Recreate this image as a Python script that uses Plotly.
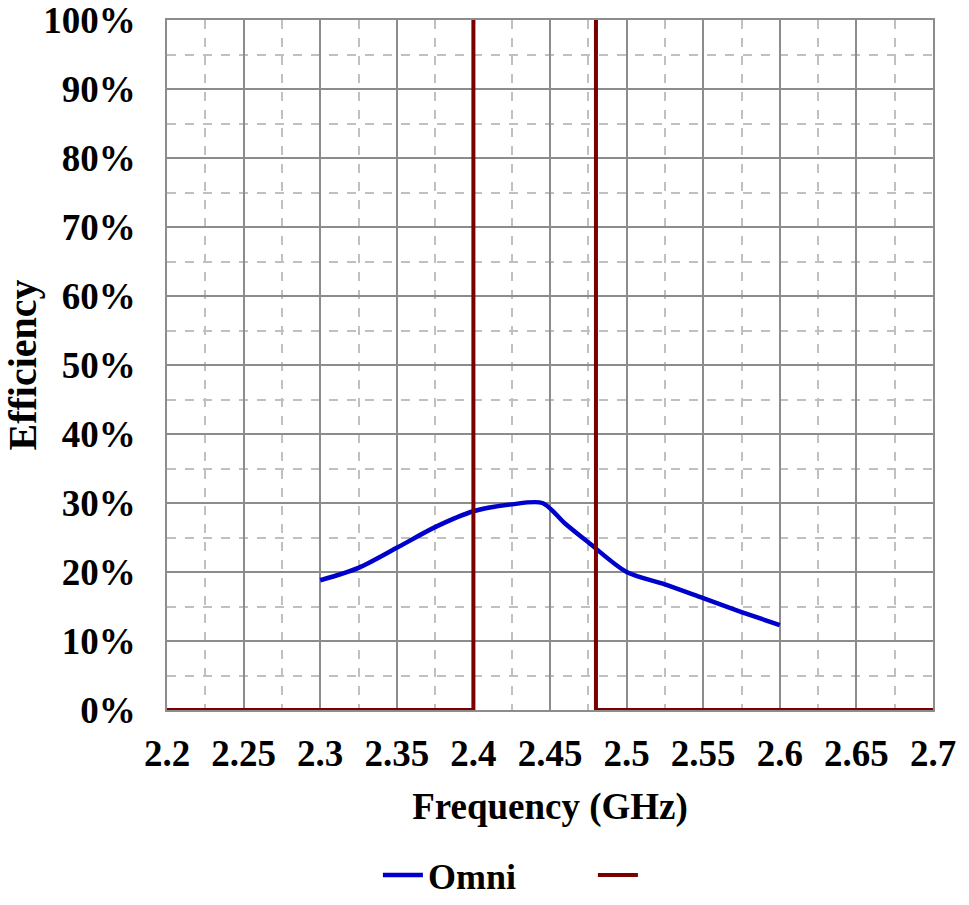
import plotly.graph_objects as go

# Measured efficiency of the omni antenna across frequency
freq_ghz = [2.30, 2.325, 2.35, 2.375, 2.40, 2.425, 2.445, 2.46, 2.475, 2.50, 2.525, 2.55, 2.575, 2.60]
omni_eff = [18.8, 20.6, 23.5, 26.5, 28.8, 29.8, 30.0, 27.0, 24.3, 20.0, 18.2, 16.2, 14.2, 12.3]

# Band edge markers (2.4 - 2.48 GHz ISM band)
band_x = [2.2, 2.4, 2.4, None, 2.48, 2.48, 2.7]
band_y = [0, 0, 100, None, 100, 0, 0]

x_ticks = [2.2, 2.25, 2.3, 2.35, 2.4, 2.45, 2.5, 2.55, 2.6, 2.65, 2.7]
x_tick_text = ["2.2", "2.25", "2.3", "2.35", "2.4", "2.45", "2.5", "2.55", "2.6", "2.65", "2.7"]
y_ticks = [0, 10, 20, 30, 40, 50, 60, 70, 80, 90, 100]
y_tick_text = [f"{v}%" for v in y_ticks]

FONT = "Liberation Serif, Times New Roman, serif"
MAJOR = "#8c8c8c"
MINOR = "#c0c0c0"

fig = go.Figure()
fig.add_trace(go.Scatter(
    x=freq_ghz, y=omni_eff, name="Omni", mode="lines",
    line=dict(color="#0000cc", width=4.5, shape="spline", smoothing=0.8),
))
fig.add_trace(go.Scatter(
    x=band_x, y=band_y, name=" ", mode="lines",
    line=dict(color="#7a0000", width=4), connectgaps=False,
))

fig.update_layout(
    width=969, height=905,
    margin=dict(l=167, r=36, t=20, b=195, autoexpand=False),
    paper_bgcolor="white", plot_bgcolor="white",
    font=dict(family=FONT, size=36, color="black", weight="bold"),
    showlegend=True,
    legend=dict(
        orientation="h", xref="container", yref="container",
        x=0.39, y=0.0, xanchor="left", yanchor="bottom",
        font=dict(family=FONT, size=36, color="black", weight="bold"),
        entrywidth=160, itemwidth=40, bgcolor="rgba(0,0,0,0)",
    ),
)

fig.update_xaxes(
    range=[2.2, 2.7], tickvals=x_ticks, ticktext=x_tick_text,
    showgrid=True, gridcolor=MAJOR, gridwidth=1.5,
    minor=dict(dtick=0.025, tick0=2.2, showgrid=True, gridcolor=MINOR, griddash="dash", gridwidth=1.5),
    showline=True, linecolor=MAJOR, linewidth=1.5, mirror=True,
    ticks="", ticklabelstandoff=10, zeroline=False, automargin=False,
    ticklabeloverflow="allow",
    tickfont=dict(family=FONT, size=37, weight="bold"),
    title=dict(text="Frequency (GHz)", font=dict(family=FONT, size=37, weight="bold"), standoff=20),
)
fig.update_yaxes(
    range=[0, 100], tickvals=y_ticks, ticktext=y_tick_text,
    showgrid=True, gridcolor=MAJOR, gridwidth=1.5,
    minor=dict(dtick=5, tick0=0, showgrid=True, gridcolor=MINOR, griddash="dash", gridwidth=1.5),
    showline=True, linecolor=MAJOR, linewidth=1.5, mirror=True,
    ticks="", ticklabelstandoff=22, zeroline=False, automargin=False,
    ticklabeloverflow="allow",
    tickfont=dict(family=FONT, size=37, weight="bold"),
    title=dict(text="Efficiency", font=dict(family=FONT, size=40, weight="bold"), standoff=6),
)

fig.write_html("out.html")
